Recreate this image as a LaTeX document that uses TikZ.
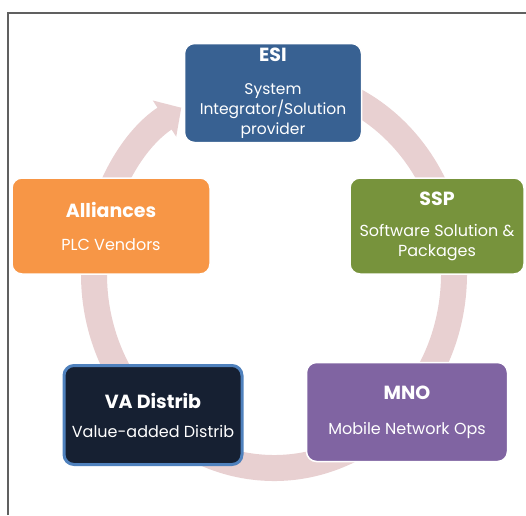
\documentclass[tikz,border=0pt]{standalone}
\usepackage{fontspec}
\setmainfont{Poppins}
\usetikzlibrary{arrows.meta}

\definecolor{esiblue}{HTML}{386192}
\definecolor{sspgreen}{HTML}{77933C}
\definecolor{allorange}{HTML}{F79646}
\definecolor{mnopurple}{HTML}{8064A2}
\definecolor{vanavy}{HTML}{162032}
\definecolor{vaedge}{HTML}{4F81BD}
\definecolor{ringpink}{HTML}{E8D0D1}
\definecolor{framegray}{HTML}{606060}

\tikzset{
  partner/.style={draw=white, line width=1.5pt, rounded corners=10pt, text=white,
    align=center, inner sep=0pt, font=\fontsize{16}{20}\selectfont},
  ring/.style={ringpink, line width=26pt, -{Triangle[length=20pt, width=42pt]}}
}
\newcommand{\head}[1]{{\bfseries\fontsize{19}{20}\selectfont #1}}

\begin{document}
\begin{tikzpicture}[x=1pt, y=-1pt]
  \useasboundingbox (0,0) rectangle (526,515);
  \draw [framegray, line width=1.2pt] (8,515) -- (8,13) -- (526,13);
  \draw [ring] (274,274) ++(-85:180 and 194)
    arc [start angle=-85, end angle=239, x radius=180, y radius=194];
  \node (esi) at (273,93) [partner, fill=esiblue, minimum width=177pt, minimum height=99pt,
    font=\fontsize{15.5}{20}\selectfont]
    {\head{ESI}\\[13pt]System\\Integrator/Solution\\provider};
  \node (ssp) at (437,226) [partner, fill=sspgreen, minimum width=174pt, minimum height=96pt]
    {\head{SSP}\\[11pt]Software Solution \&\\Packages};
  \node (alliances) at (111,226) [partner, fill=allorange, minimum width=198pt, minimum height=96pt]
    {\head{Alliances}\\[13pt]PLC Vendors};
  \node (mno) at (407,412) [partner, fill=mnopurple, minimum width=201pt, minimum height=99pt]
    {\head{MNO}\\[15pt]Mobile Network Ops};
  \node (va) at (153,415) [partner, draw=vaedge, line width=3pt, fill=vanavy,
    minimum width=178pt, minimum height=99pt]
    {\head{VA Distrib}\\[9pt]Value-added Distrib};
\end{tikzpicture}
\end{document}
